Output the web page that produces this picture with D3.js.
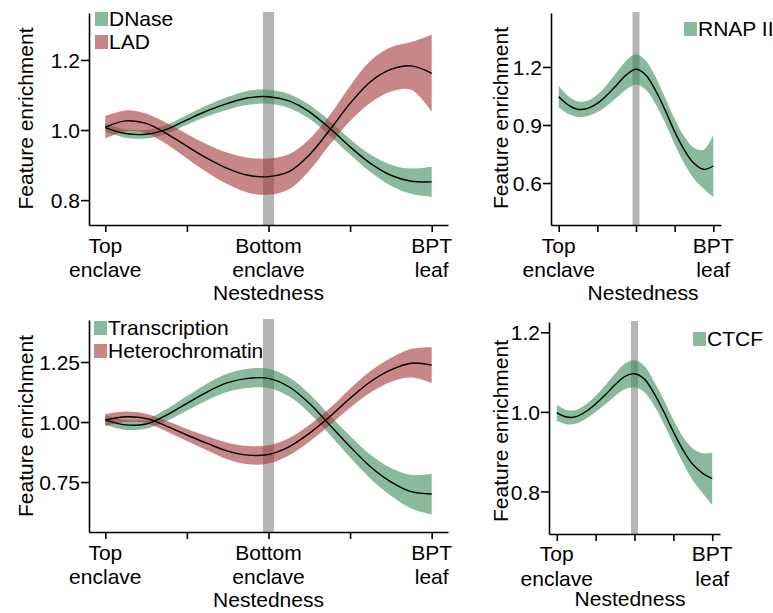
<!DOCTYPE html>
<html>
<head>
<meta charset="utf-8">
<script src="https://cdn.jsdelivr.net/npm/d3@7"></script>
<style>
  body { margin: 0; background: #fff; }
  svg { display: block; font-family: "Liberation Sans", Arial, sans-serif; }
  .axis path, .axis line { stroke: #000; stroke-width: 1.6px; }
  .axis text { font-size: 21px; fill: #000; }
</style>
</head>
<body>
<div id="chart"></div>
<script>
// sample positions along nestedness (0 = top enclave, 2 = bottom enclave, 4 = BPT leaf)
var xs = [0, 0.25, 0.5, 0.75, 1, 1.25, 1.5, 1.75, 2, 2.25, 2.5, 2.75, 3, 3.25, 3.5, 3.75, 4];

// smoothed enrichment (mean) and half width of the shaded band
var dnaseMean = [1.007, 0.990, 0.988, 1.002, 1.029, 1.055, 1.076, 1.092, 1.095, 1.083, 1.052, 1.005, 0.952, 0.905, 0.871, 0.854, 0.852];
var dnaseHw   = [0.012, 0.012, 0.012, 0.013, 0.014, 0.016, 0.018, 0.02, 0.02, 0.02, 0.02, 0.021, 0.022, 0.025, 0.03, 0.036, 0.043];
var ladMean   = [1.008, 1.026, 1.019, 0.990, 0.954, 0.919, 0.890, 0.871, 0.867, 0.881, 0.929, 1.000, 1.076, 1.138, 1.173, 1.183, 1.162];
var ladHw     = [0.032, 0.030, 0.028, 0.030, 0.035, 0.040, 0.045, 0.050, 0.052, 0.050, 0.045, 0.042, 0.050, 0.060, 0.063, 0.068, 0.110];

var rnapMean  = [1.046, 1.003, 0.981, 0.986, 1.012, 1.055, 1.107, 1.159, 1.188, 1.159, 1.081, 0.978, 0.866, 0.771, 0.702, 0.671, 0.688];
var rnapHw    = [0.055, 0.045, 0.040, 0.040, 0.045, 0.055, 0.065, 0.075, 0.078, 0.075, 0.070, 0.065, 0.065, 0.070, 0.080, 0.100, 0.160];

var transMean = [1.008, 0.988, 0.992, 1.029, 1.078, 1.126, 1.164, 1.182, 1.182, 1.147, 1.078, 0.988, 0.897, 0.814, 0.751, 0.710, 0.700];
var transHw   = [0.020, 0.020, 0.020, 0.025, 0.030, 0.035, 0.038, 0.040, 0.040, 0.040, 0.040, 0.040, 0.045, 0.050, 0.058, 0.070, 0.085];
var hetMean   = [1.008, 1.022, 1.015, 0.983, 0.946, 0.911, 0.879, 0.862, 0.865, 0.897, 0.953, 1.022, 1.099, 1.168, 1.217, 1.245, 1.237];
var hetHw     = [0.025, 0.022, 0.020, 0.022, 0.025, 0.030, 0.035, 0.038, 0.038, 0.036, 0.035, 0.035, 0.040, 0.045, 0.050, 0.060, 0.075];

var ctcfMean  = [0.998, 0.987, 0.988, 1.001, 1.020, 1.043, 1.068, 1.089, 1.096, 1.083, 1.047, 1.001, 0.950, 0.904, 0.868, 0.846, 0.832];
var ctcfHw    = [0.020, 0.018, 0.017, 0.018, 0.020, 0.024, 0.028, 0.032, 0.034, 0.033, 0.030, 0.030, 0.030, 0.033, 0.040, 0.050, 0.066];

var xTicks = [0, 1, 2, 3, 4];
var xLabelsLeft  = [['Top', 'enclave'], [], ['Bottom', 'enclave'], [], ['BPT', 'leaf']];
var xLabelsRight = [['Top', 'enclave'], [], [], [], ['BPT', 'leaf']];
var markerX = 2; // grey bar at the bottom enclave

var GREEN = '#3a8c5c', RED = '#a33737';

var panels = [
  { l: 89, r: 448, t: 13, b: 225, yDom: [0.729, 1.334], yTicks: [0.8, 1.0, 1.2], fmt: '.1f',
    series: [{ name: 'DNase', mean: dnaseMean, hw: dnaseHw, col: GREEN }, { name: 'LAD', mean: ladMean, hw: ladHw, col: RED }],
    labels: xLabelsLeft, labY: [253, 277], titleX: 268.5, titleY: 300, ylabX: 33, ylabY: 118.5,
    legX: 95, legY: 12, markW: 11 },
  { l: 551, r: 721, t: 13, b: 225, yDom: [0.383, 1.479], yTicks: [0.6, 0.9, 1.2], fmt: '.1f',
    series: [{ name: 'RNAP II', mean: rnapMean, hw: rnapHw, col: GREEN }],
    labels: xLabelsRight, labY: [253, 277], titleX: 643, titleY: 300, ylabX: 508, ylabY: 118,
    legX: 684, legY: 22, markW: 7 },
  { l: 89, r: 448, t: 320, b: 532, yDom: [0.542, 1.425], yTicks: [0.75, 1.0, 1.25], fmt: '.2f',
    series: [{ name: 'Transcription', mean: transMean, hw: transHw, col: GREEN }, { name: 'Heterochromatin', mean: hetMean, hw: hetHw, col: RED }],
    labels: xLabelsLeft, labY: [560, 584], titleX: 268.5, titleY: 607, ylabX: 33, ylabY: 426,
    legX: 94, legY: 321, markW: 11 },
  { l: 549, r: 720, t: 322, b: 534, yDom: [0.693, 1.226], yTicks: [0.8, 1.0, 1.2], fmt: '.1f',
    series: [{ name: 'CTCF', mean: ctcfMean, hw: ctcfHw, col: GREEN }],
    labels: xLabelsRight, labY: [561, 586], titleX: 630, titleY: 606, ylabX: 508, ylabY: 431,
    legX: 693, legY: 332, markW: 7 }
];

var svg = d3.select('#chart').append('svg')
  .attr('width', 773)
  .attr('height', 613);

var curve = d3.curveCatmullRom.alpha(0.5);

panels.forEach(function(p) {
  var x = d3.scaleLinear().domain([-0.2, 4.2]).range([p.l, p.r]);
  var y = d3.scaleLinear().domain(p.yDom).range([p.b, p.t]);
  var g = svg.append('g');

  // grey marker bar
  g.append('rect')
    .attr('x', x(markerX) - p.markW / 2)
    .attr('y', p.t - 1)
    .attr('width', p.markW)
    .attr('height', p.b - p.t + 1)
    .attr('fill', '#999')
    .attr('opacity', 0.72);

  // confidence bands
  p.series.forEach(function(s) {
    var band = d3.area()
      .x(function(d, i) { return x(xs[i]); })
      .y0(function(d, i) { return y(d - s.hw[i]); })
      .y1(function(d, i) { return y(d + s.hw[i]); })
      .curve(curve);
    g.append('path')
      .datum(s.mean)
      .attr('d', band)
      .attr('fill', s.col)
      .attr('fill-opacity', 0.6);
  });

  // mean curves
  p.series.forEach(function(s) {
    var line = d3.line()
      .x(function(d, i) { return x(xs[i]); })
      .y(function(d) { return y(d); })
      .curve(curve);
    g.append('path')
      .datum(s.mean)
      .attr('d', line)
      .attr('fill', 'none')
      .attr('stroke', '#000')
      .attr('stroke-width', 1.4);
  });

  // axes
  var yAxis = g.append('g')
    .attr('class', 'axis')
    .attr('transform', 'translate(' + p.l + ',0)')
    .call(d3.axisLeft(y).tickValues(p.yTicks).tickSize(8).tickSizeOuter(0).tickPadding(1).tickFormat(d3.format(p.fmt)));
  yAxis.selectAll('text').attr('dy', '0.36em');

  g.append('g')
    .attr('class', 'axis')
    .attr('transform', 'translate(0,' + p.b + ')')
    .call(d3.axisBottom(x).tickValues(xTicks).tickSize(7).tickSizeOuter(0).tickFormat(''));

  xTicks.forEach(function(t, i) {
    p.labels[i].forEach(function(txt, j) {
      g.append('text')
        .attr('x', x(t))
        .attr('y', p.labY[j])
        .attr('text-anchor', 'middle')
        .style('font-size', '21px')
        .text(txt);
    });
  });

  g.append('text')
    .attr('x', p.titleX)
    .attr('y', p.titleY)
    .attr('text-anchor', 'middle')
    .style('font-size', '21px')
    .text('Nestedness');

  g.append('text')
    .attr('transform', 'translate(' + p.ylabX + ',' + p.ylabY + ') rotate(-90)')
    .attr('text-anchor', 'middle')
    .style('font-size', '21px')
    .text('Feature enrichment');

  // legend
  p.series.forEach(function(s, i) {
    g.append('rect')
      .attr('x', p.legX)
      .attr('y', p.legY + i * 23)
      .attr('width', 13)
      .attr('height', 14)
      .attr('fill', s.col)
      .attr('fill-opacity', 0.6);
    g.append('text')
      .attr('x', p.legX + 14)
      .attr('y', p.legY + 14 + i * 23)
      .style('font-size', '21px')
      .text(s.name);
  });
});
</script>
</body>
</html>
